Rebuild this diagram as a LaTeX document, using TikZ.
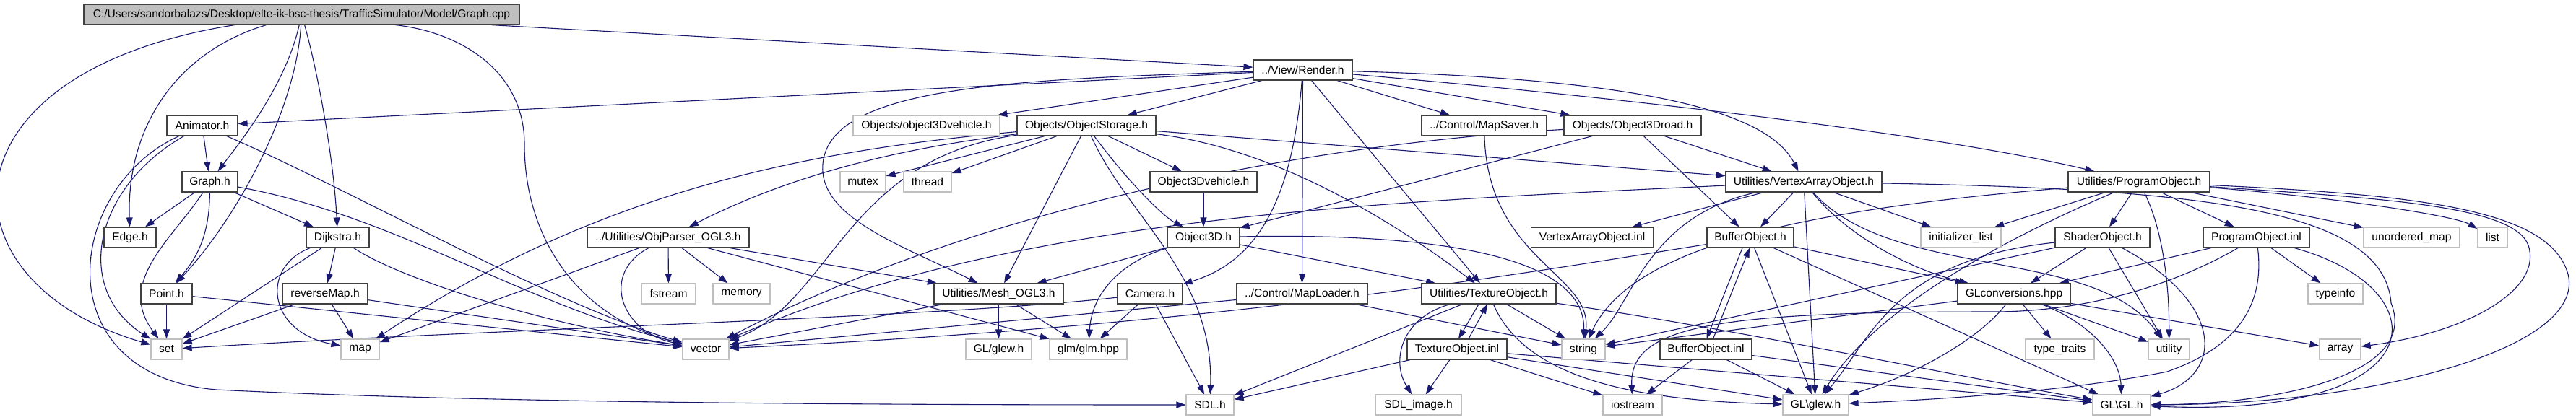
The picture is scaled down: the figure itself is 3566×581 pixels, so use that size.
\documentclass[tikz,border=0pt]{standalone}
\usepackage{fontspec}
\setmainfont{Liberation Sans}
\usetikzlibrary{arrows.meta}
\definecolor{edgecol}{HTML}{191970}
\definecolor{bordercol}{HTML}{404040}
\definecolor{syscol}{HTML}{BFBFBF}
\definecolor{rootfill}{HTML}{BFBFBF}
\pgfdeclarelayer{bg}
\pgfsetlayers{bg,main}
\tikzset{
  nd/.style={draw=bordercol, line width=1.2pt, fill=white, minimum height=28pt, inner sep=0pt,
             font=\fontsize{15.6pt}{18pt}\selectfont, text=black},
  sys/.style={nd, draw=syscol},
  dep/.style={draw=edgecol, line width=1.1pt, -{Triangle[length=13pt,width=9pt]}}
}
\begin{document}
\begin{tikzpicture}[x=1pt,y=-1pt]
\useasboundingbox (0,0) rectangle (3566,581);
% row 0
\node[nd, fill=rootfill, minimum width=603pt] (hroot) at (417.5,20) {C:/Users/sandorbalazs/Desktop/elte-ik-bsc-thesis/TrafficSimulator/Model/Graph.cpp};
% row 1
\node[nd, minimum width=137pt] (hrender) at (1803.5,97) {../View/Render.h};
% row 2
\node[nd, minimum width=98pt] (hanimator) at (280,174) {Animator.h};
\node[sys, minimum width=203pt] (ho3dvehg) at (1282.5,174) {Objects/object3Dvehicle.h};
\node[nd, minimum width=192pt] (hobjstorage) at (1504,174) {Objects/ObjectStorage.h};
\node[nd, minimum width=173pt] (hmapsaver) at (2054.5,174) {../Control/MapSaver.h};
\node[nd, minimum width=190pt] (ho3droad) at (2260,174) {Objects/Object3Droad.h};
% row 3
\node[nd, minimum width=77pt] (hgraph) at (290.5,252) {Graph.h};
\node[sys, minimum width=63pt] (hmutex) at (1194.5,252) {mutex};
\node[sys, minimum width=66pt] (hthread) at (1284,252) {thread};
\node[nd, minimum width=148pt] (ho3dvehicle) at (1666,252) {Object3Dvehicle.h};
\node[nd, minimum width=216pt] (hvao) at (2497,252) {Utilities/VertexArrayObject.h};
\node[nd, minimum width=196pt] (hprogobj) at (2961,252) {Utilities/ProgramObject.h};
% row 4
\node[nd, minimum width=72pt] (hedge) at (180,329) {Edge.h};
\node[nd, minimum width=87pt] (hdijkstra) at (467.5,329) {Dijkstra.h};
\node[nd, minimum width=224pt] (hobjparser) at (925,329) {../Utilities/ObjParser\_OGL3.h};
\node[nd, minimum width=100pt] (hobject3d) at (1666,329) {Object3D.h};
\node[nd, minimum width=169pt] (hvaoinl) at (2204,329) {VertexArrayObject.inl};
\node[nd, minimum width=120pt] (hbufobj) at (2423,329) {BufferObject.h};
\node[sys, minimum width=111pt] (hinitlist) at (2714.5,329) {initializer\_list};
\node[nd, minimum width=131pt] (hshaderobj) at (2910.5,329) {ShaderObject.h};
\node[nd, minimum width=147pt] (hproginl) at (3123.5,329) {ProgramObject.inl};
\node[sys, minimum width=133pt] (hunordmap) at (3338.5,329) {unordered\_map};
\node[sys, minimum width=41pt] (hlist) at (3450.5,329) {list};
% row 5
\node[nd, minimum width=71pt] (hpoint) at (230.5,407) {Point.h};
\node[nd, minimum width=118pt] (hrevmap) at (450,407) {reverseMap.h};
\node[sys, minimum width=75pt] (hfstream) at (925.5,407) {fstream};
\node[sys, minimum width=79pt] (hmemory) at (1026.5,407) {memory};
\node[nd, minimum width=179pt] (hmesh) at (1382.5,407) {Utilities/Mesh\_OGL3.h};
\node[nd, minimum width=90pt] (hcamera) at (1592,407) {Camera.h};
\node[nd, minimum width=181pt] (hmaploader) at (1802.5,407) {../Control/MapLoader.h};
\node[nd, minimum width=186pt] (htexobj) at (2061,407) {Utilities/TextureObject.h};
\node[nd, minimum width=156pt] (hglconv) at (2788,407) {GLconversions.hpp};
\node[sys, minimum width=76pt] (htypeinfo) at (3233,407) {typeinfo};
% row 6
\node[sys, minimum width=43pt] (hset) at (230.5,484) {set};
\node[sys, minimum width=53pt] (hmap) at (498.5,484) {map};
\node[sys, minimum width=64pt] (hvector) at (977,484) {vector};
\node[sys, minimum width=91pt] (hglewg) at (1382.5,484) {GL/glew.h};
\node[sys, minimum width=107pt] (hglm) at (1506.5,484) {glm/glm.hpp};
\node[nd, minimum width=138pt] (htexinl) at (2017,484) {TextureObject.inl};
\node[sys, minimum width=60pt] (hstring) at (2192,484) {string};
\node[nd, minimum width=127pt] (hbufinl) at (2361.5,484) {BufferObject.inl};
\node[sys, minimum width=95pt] (htypetraits) at (2851.5,484) {type\_traits};
\node[sys, minimum width=57pt] (hutility) at (3002.5,484) {utility};
\node[sys, minimum width=57pt] (harray) at (3239.5,484) {array};
% row 7
\node[sys, minimum width=119pt] (hsdlimage) at (1963.5,561) {SDL\_image.h};
\node[sys, minimum width=66pt] (hsdl) at (1675,561) {SDL.h};
\node[sys, minimum width=82pt] (hiostream) at (2260,561) {iostream};
\node[sys, minimum width=91pt] (hglew) at (2513.5,561) {GL\textbackslash glew.h};
\node[sys, minimum width=80pt] (hgl) at (2937,561) {GL\textbackslash GL.h};

\begin{pgfonlayer}{bg}
% root
\draw[dep] (hroot) .. controls (-90,100) and (-90,390) .. (hset);
\draw[dep] (hroot) .. controls (250,70) and (175,170) .. (hedge);
\draw[dep] (hroot) .. controls (395,120) and (330,200) .. (hgraph);
\draw[dep] (hroot) .. controls (410,150) and (330,300) .. (hpoint);
\draw[dep] (hroot) .. controls (440,100) and (462,220) .. (hdijkstra);
\draw[dep] (hroot) .. controls (640,45) and (726,100) .. (726,200) .. controls (726,330) and (800,440) .. (hvector);
\draw[dep] (hroot) -- (hrender);
% animator
\draw[dep] (hanimator) -- (hgraph);
\draw[dep] (hanimator) .. controls (130,260) and (100,400) .. (hset);
\draw[dep] (hanimator) .. controls (90,260) and (60,520) .. (300,540) .. controls (700,560) and (1300,561) .. (hsdl);
\draw[dep] (hanimator) .. controls (480,260) and (760,420) .. (hvector);
% graph
\draw[dep] (hgraph) -- (hedge);
\draw[dep] (hgraph) .. controls (240,330) and (160,390) .. (hset);
\draw[dep] (hgraph) .. controls (290,330) and (270,360) .. (hpoint);
\draw[dep] (hgraph) -- (hdijkstra);
\draw[dep] (hgraph) .. controls (545,298) and (720,420) .. (hvector);
% dijkstra
\draw[dep] (hdijkstra) -- (hset);
\draw[dep] (hdijkstra) .. controls (360,370) and (370,460) .. (hmap);
\draw[dep] (hdijkstra) -- (hrevmap);
\draw[dep] (hdijkstra) .. controls (560,390) and (760,450) .. (hvector);
% point, reverseMap
\draw[dep] (hpoint) -- (hset);
\draw[dep] (hpoint) -- (hvector);
\draw[dep] (hrevmap) -- (hset);
\draw[dep] (hrevmap) -- (hmap);
\draw[dep] (hrevmap) -- (hvector);
% render
\draw[dep] (hrender) -- (hanimator);
\draw[dep] (hrender) -- (ho3dvehg);
\draw[dep] (hrender) -- (hobjstorage);
\draw[dep] (hrender) .. controls (1400,110) and (1160,120) .. (1140,220) .. controls (1125,300) and (1250,340) .. (hmesh);
\draw[dep] (hrender) .. controls (1790,260) and (1750,360) .. (hcamera);
\draw[dep] (hrender) -- (hmaploader);
\draw[dep] (hrender) -- (htexobj);
\draw[dep] (hrender) -- (hmapsaver);
\draw[dep] (hrender) -- (ho3droad);
\draw[dep] (hrender) .. controls (2300,110) and (2450,160) .. (hvao);
\draw[dep] (hrender) .. controls (2300,140) and (2700,190) .. (hprogobj);
% object storage
\draw[dep] (hobjstorage) .. controls (1250,205) and (1100,240) .. (hobjparser);
\draw[dep] (hobjstorage) .. controls (1100,210) and (820,270) .. (hmap);
\draw[dep] (hobjstorage) .. controls (1170,220) and (1150,420) .. (hvector);
\draw[dep] (hobjstorage) -- (hmutex);
\draw[dep] (hobjstorage) -- (hthread);
\draw[dep] (hobjstorage) -- (hmesh);
\draw[dep] (hobjstorage) .. controls (1560,300) and (1680,380) .. (hsdl);
\draw[dep] (hobjstorage) .. controls (1560,250) and (1610,300) .. (hobject3d);
\draw[dep] (hobjstorage) -- (ho3dvehicle);
\draw[dep] (hobjstorage) -- (hvao);
\draw[dep] (hobjstorage) .. controls (1760,205) and (1920,300) .. (htexobj);
% objects
\draw[dep] (ho3dvehicle) -- (hobject3d);
\draw[dep] (hobject3d) -- (hmesh);
\draw[dep] (hobject3d) .. controls (1560,360) and (1512,400) .. (hglm);
\draw[dep] (hobject3d) .. controls (2010,322) and (2195,360) .. (hstring);
\draw[dep] (hobject3d) -- (htexobj);
\draw[dep] (ho3droad) -- (hobject3d);
\draw[dep] (ho3droad) -- (hbufobj);
\draw[dep] (ho3droad) -- (hvao);
\draw[dep] (ho3droad) .. controls (1800,200) and (1350,290) .. (hvector);
\draw[dep] (hmapsaver) .. controls (2060,360) and (2205,380) .. (hstring);
\draw[dep] (hmaploader) -- (hstring);
\draw[dep] (hmaploader) -- (hvector);
% obj parser
\draw[dep] (hobjparser) .. controls (830,380) and (860,460) .. (hvector);
\draw[dep] (hobjparser) -- (hfstream);
\draw[dep] (hobjparser) -- (hmemory);
\draw[dep] (hobjparser) -- (hmap);
\draw[dep] (hobjparser) -- (hmesh);
\draw[dep] (hobjparser) -- (hglm);
% mesh, camera
\draw[dep] (hmesh) -- (hglewg);
\draw[dep] (hmesh) -- (hglm);
\draw[dep] (hmesh) -- (hvector);
\draw[dep] (hcamera) -- (hglm);
\draw[dep] (hcamera) -- (hsdl);
\draw[dep] (hcamera) .. controls (1300,440) and (700,455) .. (hset);
% texture
\draw[dep] ([xshift=-14pt]htexobj.south) -- ([xshift=2pt]htexinl.north);
\draw[dep] ([xshift=16pt]htexinl.north) -- ([xshift=-2pt]htexobj.south);
\draw[dep] (htexobj) -- (hstring);
\draw[dep] (htexobj) -- (hsdl);
\draw[dep] (htexobj) .. controls (1940,440) and (1925,500) .. (hsdlimage);
\draw[dep] (htexobj) .. controls (2110,520) and (2250,555) .. (hglew);
\draw[dep] (htexobj) .. controls (2400,455) and (2700,520) .. (hgl);
\draw[dep] (htexinl) -- (hsdlimage);
\draw[dep] (htexinl) -- (hsdl);
\draw[dep] (htexinl) -- (hiostream);
\draw[dep] (htexinl) -- (hglew);
\draw[dep] (htexinl) -- (hgl);
% buffer
\draw[dep] ([xshift=-11pt]hbufobj.south) -- ([xshift=1pt]hbufinl.north);
\draw[dep] ([xshift=10pt]hbufinl.north) -- ([xshift=-1pt]hbufobj.south);
\draw[dep] (hbufobj) -- (hglew);
\draw[dep] (hbufobj) -- (hgl);
\draw[dep] (hbufobj) -- (hglconv);
\draw[dep] (hbufobj) .. controls (2100,380) and (1700,450) .. (hvector);
\draw[dep] (hbufinl) -- (hiostream);
\draw[dep] (hbufinl) -- (hglew);
\draw[dep] (hbufinl) -- (hgl);
% vertex array object
\draw[dep] (hvao) -- (hvaoinl);
\draw[dep] (hvao) -- (hbufobj);
\draw[dep] (hvao) -- (hinitlist);
\draw[dep] (hvao) -- (hglew);
\draw[dep] (hvao) .. controls (2560,330) and (2650,375) .. (hglconv);
\draw[dep] (hvao) .. controls (2620,390) and (2900,340) .. (hutility);
\draw[dep] (hvao) .. controls (3050,262) and (3300,290) .. (3310,420) .. controls (3350,520) and (3150,560) .. (hgl);
\draw[dep] (hvao) .. controls (2280,300) and (2260,420) .. (hstring);
\draw[dep] (hvao) .. controls (1900,280) and (1400,300) .. (hvector);
% program object
\draw[dep] (hprogobj) -- (hinitlist);
\draw[dep] (hprogobj) -- (hshaderobj);
\draw[dep] (hprogobj) .. controls (2995,320) and (3003,400) .. (hutility);
\draw[dep] (hprogobj) -- (hproginl);
\draw[dep] (hprogobj) -- (hunordmap);
\draw[dep] (hprogobj) .. controls (3250,275) and (3400,300) .. (hlist);
\draw[dep] (hprogobj) .. controls (3300,275) and (3480,285) .. (3500,340) .. controls (3520,400) and (3420,460) .. (harray);
\draw[dep] (hprogobj) .. controls (3350,270) and (3530,290) .. (3555,380) .. controls (3580,480) and (3300,560) .. (hgl);
\draw[dep] (hprogobj) .. controls (2800,320) and (2600,420) .. (hglew);
\draw[dep] (hprogobj) .. controls (2500,290) and (2260,340) .. (hstring);
% shader object
\draw[dep] (hshaderobj) -- (hglconv);
\draw[dep] (hshaderobj) -- (hutility);
\draw[dep] (hshaderobj) .. controls (3080,420) and (3080,520) .. (hgl);
\draw[dep] (hshaderobj) .. controls (2620,360) and (2590,470) .. (hglew);
\draw[dep] (hshaderobj) -- (hstring);
% GL conversions
\draw[dep] (hglconv) -- (htypetraits);
\draw[dep] (hglconv) -- (hutility);
\draw[dep] (hglconv) .. controls (2900,450) and (2935,500) .. (hgl);
\draw[dep] (hglconv) .. controls (2740,470) and (2650,520) .. (hglew);
\draw[dep] (hglconv) -- (harray);
\draw[dep] (hglconv) -- (hstring);
% program object inl
\draw[dep] (hproginl) -- (hglconv);
\draw[dep] (hproginl) -- (htypeinfo);
\draw[dep] (hproginl) .. controls (3135,420) and (3100,480) .. (3000,515) .. controls (2850,545) and (2650,555) .. (hglew);
\draw[dep] (hproginl) .. controls (3380,400) and (3380,580) .. (hgl);
\draw[dep] (hproginl) .. controls (3000,400) and (2880,432) .. (2760,432) .. controls (2380,432) and (2255,450) .. (hiostream);
\end{pgfonlayer}
\end{tikzpicture}
\end{document}
